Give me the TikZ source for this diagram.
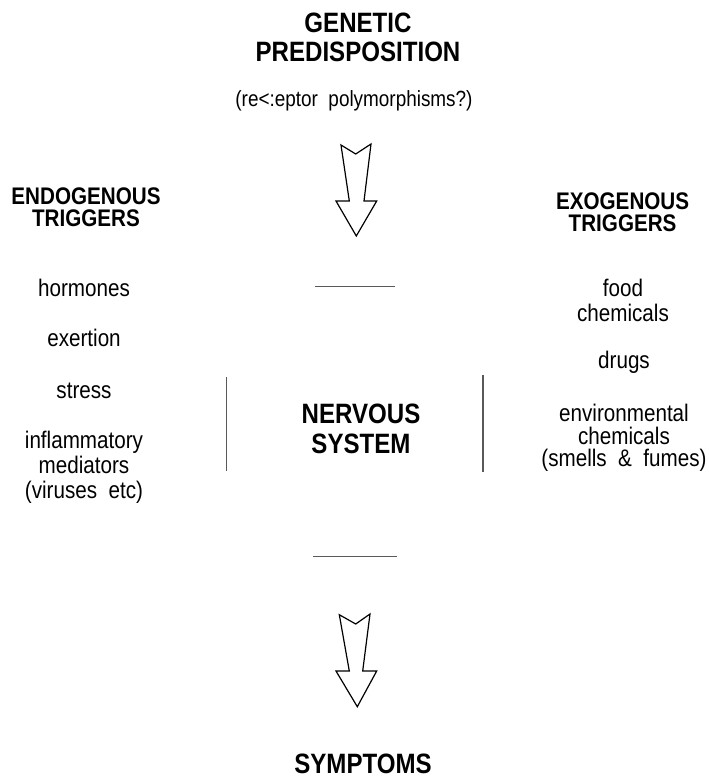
\documentclass[tikz,border=0pt]{standalone}
\usepackage{fontspec}
\setmainfont{Liberation Sans}[FakeStretch=0.86]
\begin{document}
\begin{tikzpicture}[x=1pt,y=-1pt,
  head/.style={font=\fontsize{28}{29}\selectfont\bfseries, anchor=base, inner sep=0pt, align=center},
  sidehead/.style={font=\fontsize{24}{22}\selectfont\bfseries, anchor=base, inner sep=0pt, align=center},
  item/.style={font=\fontsize{24}{24}\selectfont, anchor=base, inner sep=0pt, align=center},
  small/.style={font=\fontsize{22}{22}\selectfont, anchor=base, inner sep=0pt},
  sepline/.style={draw=black!65, line width=1.2pt},
  blockarrow/.style={draw=black, line width=1.2pt, fill=white, line join=miter}]
\useasboundingbox (0,0) rectangle (709,779);

% headings (anchor = baseline of the last line)
\node[head] (gen) at (358,61.7) {GENETIC\\PREDISPOSITION};
\node[small] (rec) at (354,106) {(re<:eptor\ \ polymorphisms?)};
\node[head, font=\fontsize{28}{30}\selectfont\bfseries] (ns) at (361,453.3) {NERVOUS\\SYSTEM};
\node[head] (sym) at (363,773.3) {SYMPTOMS};

% left column
\node[sidehead] (endo) at (86,226) {ENDOGENOUS\\TRIGGERS};
\node[item] (horm) at (84,296) {hormones};
\node[item] (exer) at (84,346.7) {exertion};
\node[item] (stress) at (84,398.3) {stress};
\node[item, font=\fontsize{24}{25}\selectfont] (infl) at (84,498) {inflammatory\\mediators\\(viruses\ \ etc)};

% right column
\node[sidehead] (exo) at (622.6,231.7) {EXOGENOUS\\TRIGGERS};
\node[item, font=\fontsize{24}{24.3}\selectfont] (food) at (623,321) {food\\chemicals};
\node[item] (drugs) at (624,368.3) {drugs};
\node[item, font=\fontsize{24}{22.5}\selectfont] (env) at (624,466.7) {environmental\\chemicals\\(smells\ \ \&\ \ fumes)};

% separator lines around nervous system
\coordinate (t1) at (315,286.7); \coordinate (t2) at (395,286.7);
\coordinate (b1) at (313,556.7); \coordinate (b2) at (397,556.7);
\coordinate (l1) at (226.7,377); \coordinate (l2) at (226.7,471);
\coordinate (r1) at (483,375); \coordinate (r2) at (483,472);
\draw[sepline] (t1) -- (t2);
\draw[sepline] (b1) -- (b2);
\draw[sepline] (l1) -- (l2);
\draw[sepline] (r1) -- (r2);

% block arrows
\draw[blockarrow] (341,145) -- (355.7,154) -- (371,144) -- (364,201) -- (376.7,201)
  -- (356.3,236) -- (336,201) -- (349.3,201) -- cycle;
\draw[blockarrow] (339.3,614.7) -- (355.7,624) -- (370,614) -- (362.7,671) -- (376.7,671)
  -- (357.3,706.7) -- (336,671) -- (349.3,671) -- cycle;
\end{tikzpicture}
\end{document}
